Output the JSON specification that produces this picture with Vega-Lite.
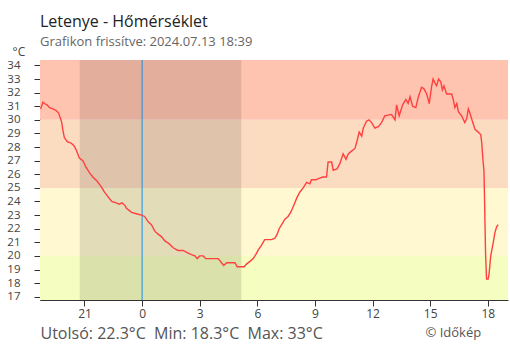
{
  "$schema": "https://vega.github.io/schema/vega-lite/v6.json",
  "width": 468,
  "height": 240,
  "autosize": {"type": "none"},
  "padding": {"left": 40, "top": 60, "right": 2, "bottom": 50},
  "background": "white",
  "title": {
    "text": "Letenye - Hőmérséklet",
    "subtitle": "Grafikon frissítve: 2024.07.13 18:39",
    "anchor": "start",
    "frame": "group",
    "font": "Open Sans",
    "fontSize": 16,
    "fontWeight": "normal",
    "color": "#222222",
    "subtitleFont": "Open Sans",
    "subtitleFontSize": 13,
    "subtitleColor": "#666666",
    "subtitlePadding": 6,
    "offset": -4
  },
  "config": {
    "font": "Open Sans",
    "view": {"stroke": null},
    "axis": {
      "grid": false,
      "domainColor": "#333333",
      "tickColor": "#333333",
      "labelColor": "#444444"
    }
  },
  "datasets": {
    "bands": [
      {"lo": 16.76, "hi": 20, "zone": "cool"},
      {"lo": 20, "hi": 25, "zone": "mild"},
      {"lo": 25, "hi": 30, "zone": "warm"},
      {"lo": 30, "hi": 34.4, "zone": "hot"}
    ],
    "night": [
      {"start": "2024-07-12 20:45", "end": "2024-07-13 05:10"}
    ],
    "midnight": [
      {"t": "2024-07-13 00:00"}
    ],
    "temps": [
      {"t": "2024-07-12 18:43", "temp": 30.8},
      {"t": "2024-07-12 18:50", "temp": 31.3},
      {"t": "2024-07-12 18:55", "temp": 31.2},
      {"t": "2024-07-12 19:03", "temp": 31.1},
      {"t": "2024-07-12 19:11", "temp": 30.9},
      {"t": "2024-07-12 19:21", "temp": 30.8},
      {"t": "2024-07-12 19:31", "temp": 30.7},
      {"t": "2024-07-12 19:39", "temp": 30.5},
      {"t": "2024-07-12 19:45", "temp": 30.1},
      {"t": "2024-07-12 19:49", "temp": 29.8},
      {"t": "2024-07-12 19:52", "temp": 29.3},
      {"t": "2024-07-12 19:57", "temp": 28.7},
      {"t": "2024-07-12 20:06", "temp": 28.4},
      {"t": "2024-07-12 20:18", "temp": 28.3},
      {"t": "2024-07-12 20:27", "temp": 28.1},
      {"t": "2024-07-12 20:34", "temp": 27.8},
      {"t": "2024-07-12 20:44", "temp": 27.2},
      {"t": "2024-07-12 20:55", "temp": 27.0},
      {"t": "2024-07-12 21:05", "temp": 26.5},
      {"t": "2024-07-12 21:16", "temp": 26.1},
      {"t": "2024-07-12 21:26", "temp": 25.8},
      {"t": "2024-07-12 21:39", "temp": 25.5},
      {"t": "2024-07-12 21:52", "temp": 25.1},
      {"t": "2024-07-12 22:02", "temp": 24.7},
      {"t": "2024-07-12 22:15", "temp": 24.3},
      {"t": "2024-07-12 22:25", "temp": 24.0},
      {"t": "2024-07-12 22:39", "temp": 23.9},
      {"t": "2024-07-12 22:49", "temp": 23.8},
      {"t": "2024-07-12 22:57", "temp": 23.9},
      {"t": "2024-07-12 23:07", "temp": 23.7},
      {"t": "2024-07-12 23:11", "temp": 23.5},
      {"t": "2024-07-12 23:27", "temp": 23.2},
      {"t": "2024-07-12 23:42", "temp": 23.1},
      {"t": "2024-07-12 23:58", "temp": 23.0},
      {"t": "2024-07-13 00:08", "temp": 22.9},
      {"t": "2024-07-13 00:19", "temp": 22.5},
      {"t": "2024-07-13 00:29", "temp": 22.3},
      {"t": "2024-07-13 00:40", "temp": 21.8},
      {"t": "2024-07-13 00:50", "temp": 21.6},
      {"t": "2024-07-13 01:01", "temp": 21.4},
      {"t": "2024-07-13 01:11", "temp": 21.1},
      {"t": "2024-07-13 01:24", "temp": 20.9},
      {"t": "2024-07-13 01:37", "temp": 20.6},
      {"t": "2024-07-13 01:52", "temp": 20.4},
      {"t": "2024-07-13 02:08", "temp": 20.4},
      {"t": "2024-07-13 02:24", "temp": 20.2},
      {"t": "2024-07-13 02:34", "temp": 20.1},
      {"t": "2024-07-13 02:45", "temp": 20.0},
      {"t": "2024-07-13 02:52", "temp": 19.8},
      {"t": "2024-07-13 03:00", "temp": 20.0},
      {"t": "2024-07-13 03:11", "temp": 20.0},
      {"t": "2024-07-13 03:19", "temp": 19.8},
      {"t": "2024-07-13 03:29", "temp": 19.8},
      {"t": "2024-07-13 03:58", "temp": 19.8},
      {"t": "2024-07-13 04:08", "temp": 19.5},
      {"t": "2024-07-13 04:15", "temp": 19.3},
      {"t": "2024-07-13 04:24", "temp": 19.5},
      {"t": "2024-07-13 04:39", "temp": 19.5},
      {"t": "2024-07-13 04:50", "temp": 19.5},
      {"t": "2024-07-13 04:57", "temp": 19.2},
      {"t": "2024-07-13 05:11", "temp": 19.2},
      {"t": "2024-07-13 05:19", "temp": 19.2},
      {"t": "2024-07-13 05:26", "temp": 19.4},
      {"t": "2024-07-13 05:37", "temp": 19.6},
      {"t": "2024-07-13 05:47", "temp": 19.8},
      {"t": "2024-07-13 05:55", "temp": 20.1},
      {"t": "2024-07-13 06:02", "temp": 20.4},
      {"t": "2024-07-13 06:13", "temp": 20.8},
      {"t": "2024-07-13 06:23", "temp": 21.2},
      {"t": "2024-07-13 06:44", "temp": 21.2},
      {"t": "2024-07-13 06:55", "temp": 21.3},
      {"t": "2024-07-13 07:02", "temp": 21.6},
      {"t": "2024-07-13 07:08", "temp": 22.0},
      {"t": "2024-07-13 07:16", "temp": 22.3},
      {"t": "2024-07-13 07:26", "temp": 22.7},
      {"t": "2024-07-13 07:36", "temp": 22.9},
      {"t": "2024-07-13 07:44", "temp": 23.2},
      {"t": "2024-07-13 07:50", "temp": 23.5},
      {"t": "2024-07-13 07:57", "temp": 23.9},
      {"t": "2024-07-13 08:04", "temp": 24.3},
      {"t": "2024-07-13 08:13", "temp": 24.7},
      {"t": "2024-07-13 08:23", "temp": 25.0},
      {"t": "2024-07-13 08:34", "temp": 25.4},
      {"t": "2024-07-13 08:44", "temp": 25.3},
      {"t": "2024-07-13 08:49", "temp": 25.6},
      {"t": "2024-07-13 09:03", "temp": 25.6},
      {"t": "2024-07-13 09:13", "temp": 25.7},
      {"t": "2024-07-13 09:24", "temp": 25.8},
      {"t": "2024-07-13 09:36", "temp": 25.8},
      {"t": "2024-07-13 09:41", "temp": 26.9},
      {"t": "2024-07-13 09:52", "temp": 26.9},
      {"t": "2024-07-13 09:57", "temp": 26.3},
      {"t": "2024-07-13 10:09", "temp": 26.4},
      {"t": "2024-07-13 10:18", "temp": 26.8},
      {"t": "2024-07-13 10:28", "temp": 27.5},
      {"t": "2024-07-13 10:37", "temp": 27.1},
      {"t": "2024-07-13 10:44", "temp": 27.5},
      {"t": "2024-07-13 10:54", "temp": 27.7},
      {"t": "2024-07-13 11:05", "temp": 27.9},
      {"t": "2024-07-13 11:12", "temp": 28.5},
      {"t": "2024-07-13 11:18", "temp": 29.1},
      {"t": "2024-07-13 11:26", "temp": 28.8},
      {"t": "2024-07-13 11:31", "temp": 29.4},
      {"t": "2024-07-13 11:41", "temp": 29.9},
      {"t": "2024-07-13 11:49", "temp": 30.0},
      {"t": "2024-07-13 11:57", "temp": 29.8},
      {"t": "2024-07-13 12:07", "temp": 29.4},
      {"t": "2024-07-13 12:18", "temp": 29.5},
      {"t": "2024-07-13 12:28", "temp": 29.8},
      {"t": "2024-07-13 12:38", "temp": 30.3},
      {"t": "2024-07-13 12:59", "temp": 30.4},
      {"t": "2024-07-13 13:10", "temp": 30.0},
      {"t": "2024-07-13 13:15", "temp": 31.1},
      {"t": "2024-07-13 13:23", "temp": 30.3},
      {"t": "2024-07-13 13:34", "temp": 31.1},
      {"t": "2024-07-13 13:44", "temp": 31.5},
      {"t": "2024-07-13 13:51", "temp": 31.2},
      {"t": "2024-07-13 13:57", "temp": 31.7},
      {"t": "2024-07-13 14:05", "temp": 31.0},
      {"t": "2024-07-13 14:15", "temp": 30.9},
      {"t": "2024-07-13 14:23", "temp": 31.7},
      {"t": "2024-07-13 14:33", "temp": 32.4},
      {"t": "2024-07-13 14:40", "temp": 32.3},
      {"t": "2024-07-13 14:49", "temp": 31.9},
      {"t": "2024-07-13 14:57", "temp": 31.2},
      {"t": "2024-07-13 15:04", "temp": 32.4},
      {"t": "2024-07-13 15:09", "temp": 33.0},
      {"t": "2024-07-13 15:15", "temp": 32.7},
      {"t": "2024-07-13 15:20", "temp": 32.5},
      {"t": "2024-07-13 15:26", "temp": 33.0},
      {"t": "2024-07-13 15:33", "temp": 32.8},
      {"t": "2024-07-13 15:38", "temp": 32.2},
      {"t": "2024-07-13 15:43", "temp": 32.5},
      {"t": "2024-07-13 15:51", "temp": 31.9},
      {"t": "2024-07-13 16:07", "temp": 31.9},
      {"t": "2024-07-13 16:12", "temp": 31.5},
      {"t": "2024-07-13 16:17", "temp": 30.9},
      {"t": "2024-07-13 16:23", "temp": 31.2},
      {"t": "2024-07-13 16:28", "temp": 30.6},
      {"t": "2024-07-13 16:38", "temp": 30.3},
      {"t": "2024-07-13 16:48", "temp": 29.8},
      {"t": "2024-07-13 16:54", "temp": 30.1},
      {"t": "2024-07-13 16:59", "temp": 30.8},
      {"t": "2024-07-13 17:04", "temp": 30.5},
      {"t": "2024-07-13 17:13", "temp": 29.8},
      {"t": "2024-07-13 17:20", "temp": 29.3},
      {"t": "2024-07-13 17:30", "temp": 29.1},
      {"t": "2024-07-13 17:38", "temp": 28.9},
      {"t": "2024-07-13 17:41", "temp": 28.3},
      {"t": "2024-07-13 17:44", "temp": 27.3},
      {"t": "2024-07-13 17:48", "temp": 26.2},
      {"t": "2024-07-13 17:50", "temp": 23.8},
      {"t": "2024-07-13 17:53", "temp": 20.1},
      {"t": "2024-07-13 17:56", "temp": 18.3},
      {"t": "2024-07-13 18:01", "temp": 18.3},
      {"t": "2024-07-13 18:04", "temp": 18.7},
      {"t": "2024-07-13 18:09", "temp": 20.0},
      {"t": "2024-07-13 18:13", "temp": 20.5},
      {"t": "2024-07-13 18:17", "temp": 21.0},
      {"t": "2024-07-13 18:22", "temp": 21.7},
      {"t": "2024-07-13 18:27", "temp": 22.1},
      {"t": "2024-07-13 18:32", "temp": 22.3}
    ]
  },
  "layer": [
    {
      "data": {"name": "bands"},
      "mark": {"type": "rect"},
      "encoding": {
        "y": {
          "field": "lo",
          "type": "quantitative",
          "scale": {"domain": [16.76, 34.4], "nice": false, "zero": false},
          "axis": {
            "orient": "left",
            "offset": -6,
            "values": [17, 18, 19, 20, 21, 22, 23, 24, 25, 26, 27, 28, 29, 30, 31, 32, 33, 34],
            "tickSize": 6,
            "labels": false,
            "domain": false,
            "title": null
          }
        },
        "y2": {"field": "hi"},
        "color": {
          "field": "zone",
          "type": "nominal",
          "scale": {
            "domain": ["cool", "mild", "warm", "hot"],
            "range": ["#f5fdc0", "#fff8d0", "#fcdcc0", "#ffc4b0"]
          },
          "legend": null
        }
      }
    },
    {
      "data": {"name": "night"},
      "mark": {"type": "rect", "color": "#000000", "opacity": 0.11},
      "encoding": {
        "x": {
          "field": "start",
          "type": "temporal",
          "axis": {
            "orient": "bottom",
            "offset": -6,
            "values": [
              {"year": 2024, "month": 7, "date": 12, "hours": 21},
              {"year": 2024, "month": 7, "date": 13, "hours": 0},
              {"year": 2024, "month": 7, "date": 13, "hours": 3},
              {"year": 2024, "month": 7, "date": 13, "hours": 6},
              {"year": 2024, "month": 7, "date": 13, "hours": 9},
              {"year": 2024, "month": 7, "date": 13, "hours": 12},
              {"year": 2024, "month": 7, "date": 13, "hours": 15},
              {"year": 2024, "month": 7, "date": 13, "hours": 18}
            ],
            "tickSize": 6,
            "labels": false,
            "domain": false,
            "title": "© Időkép",
            "titleX": 385,
            "titleY": 42,
            "titleAlign": "left",
            "titleBaseline": "alphabetic",
            "titleFontSize": 13,
            "titleFontWeight": "normal",
            "titleColor": "#555555"
          }
        },
        "x2": {"field": "end"}
      }
    },
    {
      "data": {"name": "midnight"},
      "mark": {"type": "rule", "color": "#1a8fe3", "strokeWidth": 1},
      "encoding": {
        "x": {"field": "t", "type": "temporal", "axis": null}
      }
    },
    {
      "data": {"name": "temps"},
      "mark": {"type": "line", "color": "#ff4040", "strokeWidth": 1.4},
      "encoding": {
        "x": {
          "field": "t",
          "type": "temporal",
          "scale": {
            "domain": [
              {"year": 2024, "month": 7, "date": 12, "hours": 18, "minutes": 41},
              {"year": 2024, "month": 7, "date": 13, "hours": 19, "minutes": 3}
            ]
          },
          "axis": {
            "orient": "bottom",
            "format": "%-H",
            "values": [
              {"year": 2024, "month": 7, "date": 12, "hours": 21},
              {"year": 2024, "month": 7, "date": 13, "hours": 0},
              {"year": 2024, "month": 7, "date": 13, "hours": 3},
              {"year": 2024, "month": 7, "date": 13, "hours": 6},
              {"year": 2024, "month": 7, "date": 13, "hours": 9},
              {"year": 2024, "month": 7, "date": 13, "hours": 12},
              {"year": 2024, "month": 7, "date": 13, "hours": 15},
              {"year": 2024, "month": 7, "date": 13, "hours": 18}
            ],
            "tickSize": 6,
            "labelPadding": 2,
            "labelFontSize": 12,
            "labelOverlap": false,
            "title": "Utolsó: 22.3°C \u00a0Min: 18.3°C \u00a0Max: 33°C",
            "titleX": 0,
            "titleY": 38,
            "titleAlign": "left",
            "titleBaseline": "alphabetic",
            "titleFontSize": 16,
            "titleFontWeight": "normal",
            "titleColor": "#555555"
          }
        },
        "y": {
          "field": "temp",
          "type": "quantitative",
          "scale": {"domain": [16.76, 34.4], "nice": false, "zero": false},
          "axis": {
            "orient": "left",
            "values": [17, 18, 19, 20, 21, 22, 23, 24, 25, 26, 27, 28, 29, 30, 31, 32, 33, 34],
            "tickSize": 6,
            "labelPadding": 14,
            "labelFontSize": 11.5,
            "labelOverlap": false,
            "title": "°C",
            "titleAngle": 0,
            "titleX": -28,
            "titleY": -5,
            "titleAlign": "left",
            "titleBaseline": "alphabetic",
            "titleFontSize": 12,
            "titleFontWeight": "normal",
            "titleColor": "#444444"
          }
        }
      }
    }
  ],
  "resolve": {"axis": {"x": "independent", "y": "independent"}}
}
